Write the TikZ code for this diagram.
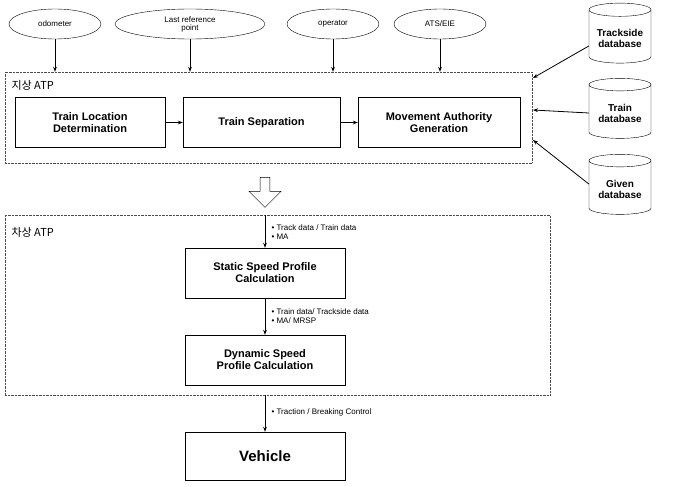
\documentclass[tikz,border=0pt]{standalone}
\usepackage{fontspec}
\setmainfont{Liberation Sans}
\newfontfamily\kr{Noto Sans CJK KR}
\usetikzlibrary{shapes.geometric,shapes.arrows,arrows.meta}
\begin{document}
\begin{tikzpicture}[x=1pt,y=-1pt,
 ell/.style={draw,ellipse,minimum height=30pt,inner sep=1pt,font=\fontsize{8}{8}\selectfont,align=center},
 cyl/.style={draw,cylinder,shape border rotate=90,aspect=0.25,minimum width=62pt,minimum height=60pt,font=\bfseries\fontsize{10}{11}\selectfont,align=center},
 box/.style={draw,minimum height=50pt,font=\bfseries\fontsize{11}{12}\selectfont,align=center},
 dbox/.style={draw,densely dotted,gray!60!black},
 arr/.style={-{Stealth[length=5pt]},thick},
 lab/.style={anchor=west,font=\fontsize{8}{9}\selectfont,align=left}]
\useasboundingbox (0,0) rectangle (680,487);
\node[ell,minimum width=92pt] (odo) at (55,24) {odometer};
\node[ell,minimum width=150pt] (lrp) at (190,24) {Last reference\\point};
\node[ell,minimum width=92pt] (op) at (333,24) {operator};
\node[ell,minimum width=92pt] (ats) at (440,24) {ATS/EIE};
\node[cyl] (tdb) at (620,38) {Trackside\\database};
\node[cyl] (trdb) at (620,113) {Train\\database};
\node[cyl] (gdb) at (620,189) {Given\\database};
\node[dbox,minimum width=527pt,minimum height=91pt] (g1) at (268.5,117.5) {};
\node[anchor=west,font=\kr\fontsize{11}{12}\selectfont] (l1) at (8,85) {지상 ATP};
\node[box,minimum width=150pt] (tld) at (90,122.5) {Train Location\\Determination};
\node[box,minimum width=157pt] (ts) at (261.5,122.5) {Train Separation};
\node[box,minimum width=162pt] (mag) at (439,122.5) {Movement Authority\\Generation};
\draw[arr] (tld) -- (ts);
\draw[arr] (ts) -- (mag);
\foreach \n in {odo,op,ats} \draw[arr] (\n.south) -- (\n.south |- g1.north);
\draw[arr] (lrp.south) -- (lrp.south |- g1.north);
\coordinate (e1) at (533,78); \coordinate (e2) at (533,110); \coordinate (e3) at (533,140);
\draw[arr] (tdb.west) ++(0,8) -- (e1);
\draw[arr] (trdb.west) -- (e2);
\draw[arr] (gdb.west) ++(0,-5) -- (e3);
\node[draw,single arrow,shape border rotate=270,minimum height=30pt,minimum width=32pt,single arrow head extend=5pt,inner sep=2pt] (big) at (265,190) {};
\node[dbox,minimum width=545pt,minimum height=180pt] (g2) at (277.5,305) {};
\node[anchor=west,font=\kr\fontsize{11}{12}\selectfont] (l2) at (8,232) {차상 ATP};
\node[box,minimum width=160pt] (ssp) at (265,273) {Static Speed Profile\\Calculation};
\node[box,minimum width=160pt] (dsp) at (265,360) {Dynamic Speed\\Profile Calculation};
\node[box,minimum width=160pt,minimum height=48pt,font=\bfseries\fontsize{15}{16}\selectfont] (veh) at (265,456) {Vehicle};
\draw[arr] (ssp.north |- g2.north) -- (ssp.north);
\draw[arr] (ssp) -- (dsp);
\draw[arr] (dsp.south |- g2.south) -- (veh.north);
\node[lab] (t1) at (268,232) {• Track data / Train data\\• MA};
\node[lab] (t2) at (268,316) {• Train data/ Trackside data\\• MA/ MRSP};
\node[lab] (t3) at (268,412) {• Traction / Breaking Control};
\end{tikzpicture}
\end{document}
